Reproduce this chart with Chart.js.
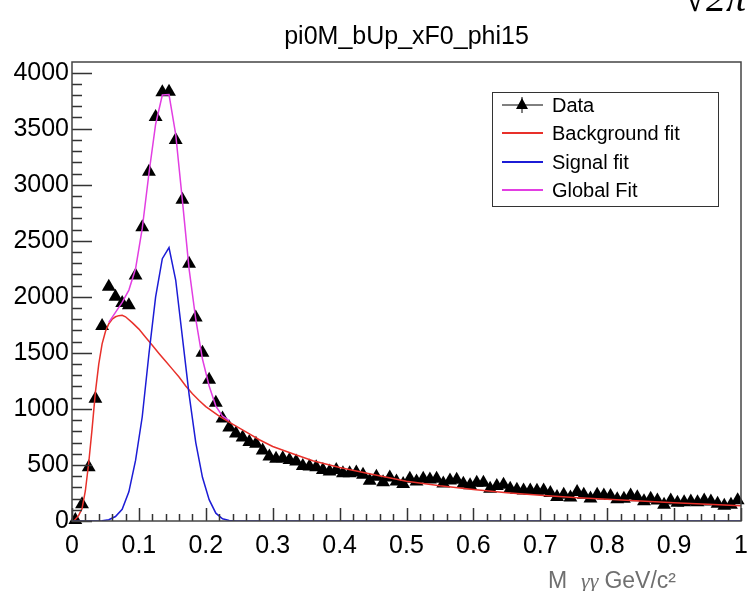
<!DOCTYPE html>
<html><head><meta charset="utf-8">
<script src="https://cdn.jsdelivr.net/npm/chart.js@4.4.1/dist/chart.umd.min.js"></script>
<style>html,body{margin:0;padding:0;background:#fff;}canvas{display:block;}</style>
</head><body>
<canvas id="c" width="749" height="591"></canvas>
<script>
// ---------- data ----------
const binCenters = [0.005,0.015,0.025,0.035,0.045,0.055,0.065,0.075,0.085,0.095,
0.105,0.115,0.125,0.135,0.145,0.155,0.165,0.175,0.185,0.195,
0.205,0.215,0.225,0.235,0.245,0.255,0.265,0.275,0.285,0.295,
0.305,0.315,0.325,0.335,0.345,0.355,0.365,0.375,0.385,0.395,
0.405,0.415,0.425,0.435,0.445,0.455,0.465,0.475,0.485,0.495,
0.505,0.515,0.525,0.535,0.545,0.555,0.565,0.575,0.585,0.595,
0.605,0.615,0.625,0.635,0.645,0.655,0.665,0.675,0.685,0.695,
0.705,0.715,0.725,0.735,0.745,0.755,0.765,0.775,0.785,0.795,
0.805,0.815,0.825,0.835,0.845,0.855,0.865,0.875,0.885,0.895,
0.905,0.915,0.925,0.935,0.945,0.955,0.965,0.975,0.985,0.995];
const dataCounts = [8,150,480,1090,1740,2090,2000,1945,1925,2190,
2620,3115,3605,3825,3830,3400,2865,2295,1815,1500,
1260,1055,915,835,780,745,705,690,630,575,
555,560,545,530,490,486,480,456,441,456,
427,427,432,412,360,395,345,387,353,330,
377,353,377,371,377,335,362,368,333,318,
342,342,288,312,324,288,279,273,273,270,
273,250,215,234,210,258,234,200,234,228,
222,195,198,228,213,177,198,183,145,183,
162,168,174,168,183,174,154,135,145,185];
const bgX = [0.003,0.01,0.015,0.02,0.025,0.03,0.035,0.04,0.045,0.05,0.055,0.06,0.065,0.07,0.075,0.08,0.09,0.1,0.11,0.12,0.13,0.14,0.15,0.16,0.17,0.18,0.19,0.2,0.22,0.24,0.26,0.28,0.3,0.33,0.36,0.4,0.45,0.5,0.55,0.6,0.65,0.7,0.75,0.8,0.85,0.9,0.95,1.0];
const bgY = [0,50,110,270,520,820,1150,1400,1580,1690,1760,1800,1822,1832,1835,1822,1770,1712,1640,1568,1495,1425,1355,1285,1205,1135,1075,1020,935,865,795,725,665,600,538,478,415,355,315,282,253,230,210,194,178,163,150,137];
const sigX = [0,0.035,0.045,0.055,0.065,0.075,0.085,0.095,0.105,0.115,0.125,0.135,0.145,0.155,0.165,0.175,0.185,0.195,0.205,0.215,0.225,0.235,0.245,0.255,1.0];
const sigY = [0,0,3,12,40,105,260,540,930,1490,2000,2340,2440,2150,1640,1130,700,390,190,70,20,5,1,0,0];
const globX = [0.055,0.065,0.075,0.085,0.095,0.105,0.115,0.125,0.135,0.145,0.155,0.165,0.175,0.185,0.195,0.205,0.215,0.225,0.235];
const globY = [1772,1862,1950,2060,2250,2610,3100,3540,3800,3805,3450,2860,2250,1800,1445,1205,1025,935,895];
const xTickValues = [0,0.1,0.2,0.3,0.4,0.5,0.6,0.7,0.8,0.9,1];
const xTickLabels = ['0','0.1','0.2','0.3','0.4','0.5','0.6','0.7','0.8','0.9','1'];
const yTickValues = [0,500,1000,1500,2000,2500,3000,3500,4000];
const yTickLabels = ['0','500','1000','1500','2000','2500','3000','3500','4000'];
const seriesLabels = ['Data','Background fit','Signal fit','Global Fit'];
const titleText = 'pi0M_bUp_xF0_phi15';
const xAxisTitle = ['M', '\u03B3\u03B3', 'GeV/c\u00B2'];
const cornerText = '\u221A2\u03C0';

// ---------- build ----------
const pts = (xs, ys) => xs.map((x, i) => ({x: x, y: ys[i]}));
const SANS = '"Liberation Sans", Arial, Helvetica, sans-serif';
Chart.defaults.font.family = SANS;
Chart.defaults.color = '#000';

const rootDecor = {
  id: 'rootDecor',
  afterDraw(chart) {
    const ctx = chart.ctx, a = chart.chartArea;
    const xs = chart.scales.x, ys = chart.scales.y;
    ctx.save();
    // ticks (inside the frame)
    ctx.strokeStyle = '#333';
    ctx.lineWidth = 1.5;
    ctx.beginPath();
    for (let v = 0; v <= 4000; v += 100) {
      const py = Math.round(ys.getPixelForValue(v)) + 0.5;
      const len = (v % 500 === 0) ? 20 : 10;
      ctx.moveTo(a.left, py); ctx.lineTo(a.left + len, py);
    }
    for (let k = 0; k <= 50; k++) {
      const v = k * 0.02;
      const px = Math.round(xs.getPixelForValue(v)) + 0.5;
      const len = (k % 5 === 0) ? 13 : 7;
      ctx.moveTo(px, a.bottom); ctx.lineTo(px, a.bottom - len);
    }
    ctx.stroke();
    // frame
    ctx.strokeStyle = '#444';
    ctx.lineWidth = 1.5;
    ctx.strokeRect(a.left, a.top, a.right - a.left, a.bottom - a.top);

    // legend
    const lx = 492, ly = 92, lw = 226, lh = 114;
    ctx.fillStyle = '#fff';
    ctx.fillRect(lx, ly, lw, lh);
    ctx.strokeStyle = '#333';
    ctx.lineWidth = 1;
    ctx.strokeRect(lx + 0.5, ly + 0.5, lw, lh);
    const rowsY = [105, 133, 162, 190];
    const dsets = chart.data.datasets;
    ctx.font = '20px ' + SANS;
    ctx.textBaseline = 'middle';
    ctx.textAlign = 'left';
    rowsY.forEach((ry, i) => {
      const ds = dsets[i];
      ctx.strokeStyle = ds.borderColor;
      ctx.lineWidth = i === 0 ? 1 : 2;
      ctx.beginPath();
      ctx.moveTo(502, ry); ctx.lineTo(543, ry);
      ctx.stroke();
      if (i === 0) {
        ctx.beginPath();
        ctx.moveTo(522, ry - 8); ctx.lineTo(522, ry + 8);
        ctx.stroke();
        ctx.fillStyle = '#000';
        ctx.beginPath();
        ctx.moveTo(522, ry - 7); ctx.lineTo(528, ry + 4); ctx.lineTo(516, ry + 4);
        ctx.closePath(); ctx.fill();
      }
      ctx.fillStyle = '#000';
      ctx.fillText(ds.label, 552, ry + 1);
    });

    // x axis title (ROOT style)
    ctx.fillStyle = '#6f6f6f';
    ctx.textBaseline = 'alphabetic';
    const f1 = '23px ' + SANS, f2 = 'italic 22px "Liberation Serif", "Times New Roman", serif';
    ctx.font = f1; const w1 = ctx.measureText(xAxisTitle[0]).width;
    const w3 = ctx.measureText(xAxisTitle[2]).width;
    ctx.font = f2; const w2 = ctx.measureText(xAxisTitle[1]).width;
    const right = 676, base = 588;
    let x0 = right - w3 - 6 - w2 - 14 - w1;
    ctx.font = f1; ctx.fillText(xAxisTitle[0], x0, base);
    ctx.font = f2; ctx.fillText(xAxisTitle[1], x0 + w1 + 14, base);
    ctx.font = f1; ctx.fillText(xAxisTitle[2], right - w3, base);

    // clipped fragment at top right
    ctx.fillStyle = '#000';
    ctx.font = 'italic 40px "Liberation Serif", serif';
    ctx.textAlign = 'right';
    ctx.fillText(cornerText, 746, 11);
    ctx.restore();
  }
};

new Chart(document.getElementById('c'), {
  type: 'scatter',
  data: {
    datasets: [
      {label: seriesLabels[0], data: pts(binCenters, dataCounts), pointStyle: 'triangle',
       pointRadius: 8, pointHoverRadius: 8, backgroundColor: '#000', borderColor: '#000',
       borderWidth: 0, showLine: false, order: 4, clip: false},
      {label: seriesLabels[1], data: pts(bgX, bgY), borderColor: '#e8302a', borderWidth: 1.5,
       pointRadius: 0, showLine: true, tension: 0, order: 3},
      {label: seriesLabels[2], data: pts(sigX, sigY), borderColor: '#1c1cd6', borderWidth: 1.5,
       pointRadius: 0, showLine: true, tension: 0, order: 2},
      {label: seriesLabels[3], data: pts(globX, globY), borderColor: '#e23ee2', borderWidth: 1.5,
       pointRadius: 0, showLine: true, tension: 0, order: 1}
    ]
  },
  options: {
    responsive: false,
    animation: false,
    devicePixelRatio: 1,
    layout: {padding: {left: 0, top: 0, bottom: 0, right: 4}},
    plugins: {
      legend: {display: false},
      tooltip: {enabled: false},
      title: {display: true, text: titleText, fullSize: false, color: '#000',
              font: {size: 25, weight: 'normal', family: SANS},
              padding: {top: 22, bottom: 10}}
    },
    scales: {
      x: {type: 'linear', min: 0, max: 1,
          grid: {display: false, drawTicks: false}, border: {display: false},
          afterBuildTicks: (s) => { s.ticks = xTickValues.map(v => ({value: v})); },
          afterFit: (s) => { s.height = 70; s.paddingRight = 0; s.paddingLeft = 0; },
          ticks: {autoSkip: false, maxRotation: 0, minRotation: 0, padding: 10,
                  font: {size: 25}, color: '#000',
                  callback: (v) => { const i = xTickValues.findIndex(t => Math.abs(t - v) < 1e-9); return i >= 0 ? xTickLabels[i] : ''; }}},
      y: {type: 'linear', min: 0, max: 4095,
          grid: {display: false, drawTicks: false}, border: {display: false},
          afterBuildTicks: (s) => { s.ticks = yTickValues.map(v => ({value: v})); },
          afterFit: (s) => { s.width = 72; s.paddingTop = 0; s.paddingBottom = 0; },
          ticks: {autoSkip: false, padding: 3, font: {size: 25}, color: '#000',
                  callback: (v) => { const i = yTickValues.indexOf(v); return i >= 0 ? yTickLabels[i] : ''; }}}
    }
  },
  plugins: [rootDecor]
});
</script>
</body></html>
